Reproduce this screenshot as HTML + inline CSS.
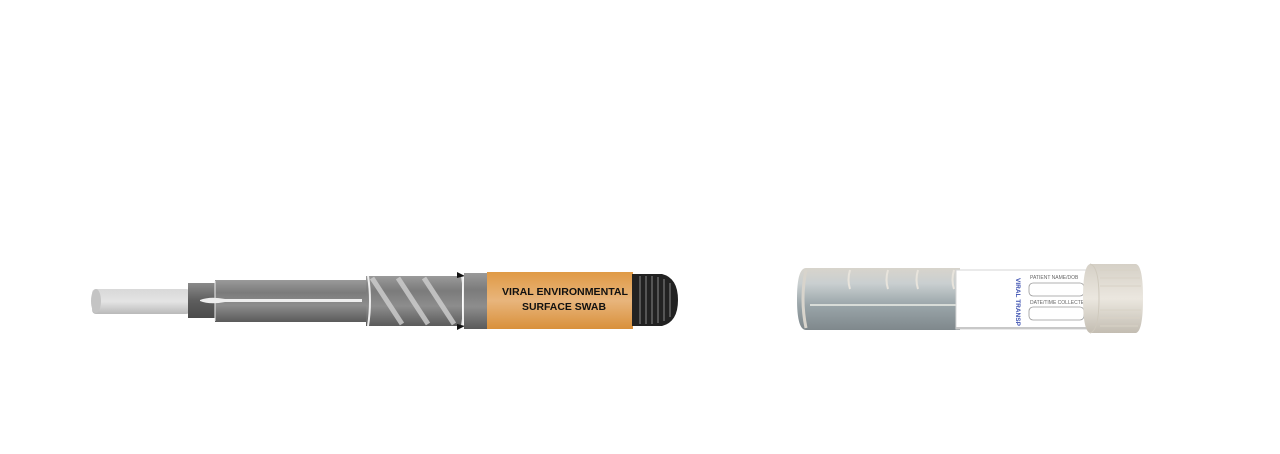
<!DOCTYPE html>
<html><head><meta charset="utf-8"><style>
html,body{margin:0;padding:0;background:#fff;width:1280px;height:454px;overflow:hidden}
svg text{font-family:"Liberation Sans",sans-serif}
</style></head><body>
<svg width="1280" height="454" viewBox="0 0 1280 454" xmlns="http://www.w3.org/2000/svg">
<defs>
<linearGradient id="lg" x1="0" y1="0" x2="0" y2="1"><stop offset="0" stop-color="#d8d8d8"/><stop offset=".5" stop-color="#e4e4e4"/><stop offset="1" stop-color="#b9b9b9"/></linearGradient>
<linearGradient id="dg" x1="0" y1="0" x2="0" y2="1"><stop offset="0" stop-color="#8a8a8a"/><stop offset=".5" stop-color="#5e5e5e"/><stop offset="1" stop-color="#4a4a4a"/></linearGradient>
<linearGradient id="mg" x1="0" y1="0" x2="0" y2="1"><stop offset="0" stop-color="#9a9a9a"/><stop offset=".3" stop-color="#7b7b7b"/><stop offset=".6" stop-color="#8d8d8d"/><stop offset="1" stop-color="#5a5a5a"/></linearGradient>
<linearGradient id="og" x1="0" y1="0" x2="0" y2="1"><stop offset="0" stop-color="#e09a45"/><stop offset=".5" stop-color="#e8b57c"/><stop offset="1" stop-color="#d9903a"/></linearGradient>
<linearGradient id="tg" x1="0" y1="0" x2="0" y2="1"><stop offset="0" stop-color="#d8d4cc"/><stop offset=".25" stop-color="#c9cfd0"/><stop offset=".6" stop-color="#9aa5a9"/><stop offset="1" stop-color="#7f888c"/></linearGradient>
<linearGradient id="cg" x1="0" y1="0" x2="0" y2="1"><stop offset="0" stop-color="#d5d0c6"/><stop offset=".5" stop-color="#ebe7df"/><stop offset="1" stop-color="#c3bdb2"/></linearGradient>
</defs>
<rect x="92" y="289" width="98" height="25" rx="4" fill="url(#lg)"/>
<ellipse cx="96" cy="301" rx="5" ry="12" fill="#c4c4c4"/>
<rect x="188" y="283" width="30" height="35" fill="url(#dg)"/>
<rect x="215" y="280" width="152" height="42" fill="url(#mg)"/>
<line x1="215" y1="281" x2="215" y2="321" stroke="#eee" stroke-width="1"/>
<path d="M200 300 Q210 296 225 299 L362 299 L362 302 L225 302 Q210 305 200 301Z" fill="#eee"/>
<rect x="366" y="276" width="96" height="50" fill="url(#mg)"/>
<g stroke="#d0d0d0" stroke-width="5" opacity=".8">
<line x1="372" y1="278" x2="402" y2="324"/><line x1="398" y1="278" x2="428" y2="324"/><line x1="424" y1="278" x2="454" y2="324"/>
</g>
<path d="M368 276 Q372 301 368 326" stroke="#eee" fill="none" stroke-width="2"/>
<path d="M462 276 Q466 301 462 326" stroke="#eee" fill="none" stroke-width="2"/>
<path d="M457 272 L465 276 L457 278Z M457 324 L465 326 L457 330Z" fill="#111"/>
<rect x="464" y="273" width="26" height="56" fill="url(#mg)"/>
<rect x="487" y="272" width="146" height="57" fill="url(#og)"/>
<text x="502" y="295" font-size="10.5" font-weight="bold" fill="#111" textLength="126" lengthAdjust="spacingAndGlyphs">VIRAL ENVIRONMENTAL</text>
<text x="522" y="310" font-size="10.5" font-weight="bold" fill="#111" textLength="84" lengthAdjust="spacingAndGlyphs">SURFACE SWAB</text>
<path d="M632 274 L662 274 Q678 278 678 300 Q678 322 662 326 L632 326Z" fill="#222"/>
<g stroke="#888" stroke-width="1">
<line x1="640" y1="276" x2="640" y2="324"/><line x1="646" y1="276" x2="646" y2="324"/><line x1="652" y1="276" x2="652" y2="324"/><line x1="658" y1="277" x2="658" y2="323"/><line x1="664" y1="279" x2="664" y2="321"/><line x1="670" y1="283" x2="670" y2="317"/>
</g>
<path d="M806 268 L960 268 L960 330 L806 330 Q797 330 797 299 Q797 268 806 268Z" fill="url(#tg)"/>
<path d="M806 270 Q800 299 806 328" stroke="#d8d4cc" stroke-width="3" fill="none"/>
<line x1="810" y1="305" x2="958" y2="305" stroke="#d8dcd8" stroke-width="2"/>
<g stroke="#e8e4dc" stroke-width="2" fill="none">
<path d="M850 270 Q847 280 850 289"/><path d="M888 270 Q885 280 888 289"/><path d="M918 270 Q915 280 918 289"/><path d="M954 270 Q951 280 954 289"/>
</g>
<rect x="956" y="270" width="132" height="59" fill="#fff" stroke="#d6d6d6" stroke-width="1"/>
<line x1="956" y1="328" x2="1088" y2="328" stroke="#c8c8c8" stroke-width="2"/>
<text transform="translate(1016,278) rotate(90)" font-size="6.5" font-weight="bold" fill="#3b4fb0">VIRAL TRANSP</text>
<text x="1030" y="279" font-size="5" fill="#666">PATIENT NAME/DOB</text>
<rect x="1029" y="283" width="55" height="13" rx="4" fill="#fff" stroke="#999" stroke-width=".8"/>
<text x="1030" y="304" font-size="5" fill="#666">DATE/TIME COLLECTED</text>
<rect x="1029" y="307" width="55" height="13" rx="4" fill="#fff" stroke="#999" stroke-width=".8"/>
<path d="M1090 264 L1136 264 Q1143 266 1143 298 Q1143 331 1136 333 L1090 333 Q1083 331 1083 298 Q1083 266 1090 264Z" fill="url(#cg)"/>
<g stroke="#d8d2c6" stroke-width="1"><line x1="1100" y1="270" x2="1138" y2="270"/><line x1="1100" y1="278" x2="1140" y2="278"/><line x1="1100" y1="286" x2="1141" y2="286"/><line x1="1100" y1="310" x2="1141" y2="310"/><line x1="1100" y1="318" x2="1140" y2="318"/><line x1="1100" y1="326" x2="1138" y2="326"/></g>
<path d="M1090 264 Q1099 266 1099 298 Q1099 331 1090 333" stroke="#cfc9bd" fill="none"/>
</svg>
</body></html>
